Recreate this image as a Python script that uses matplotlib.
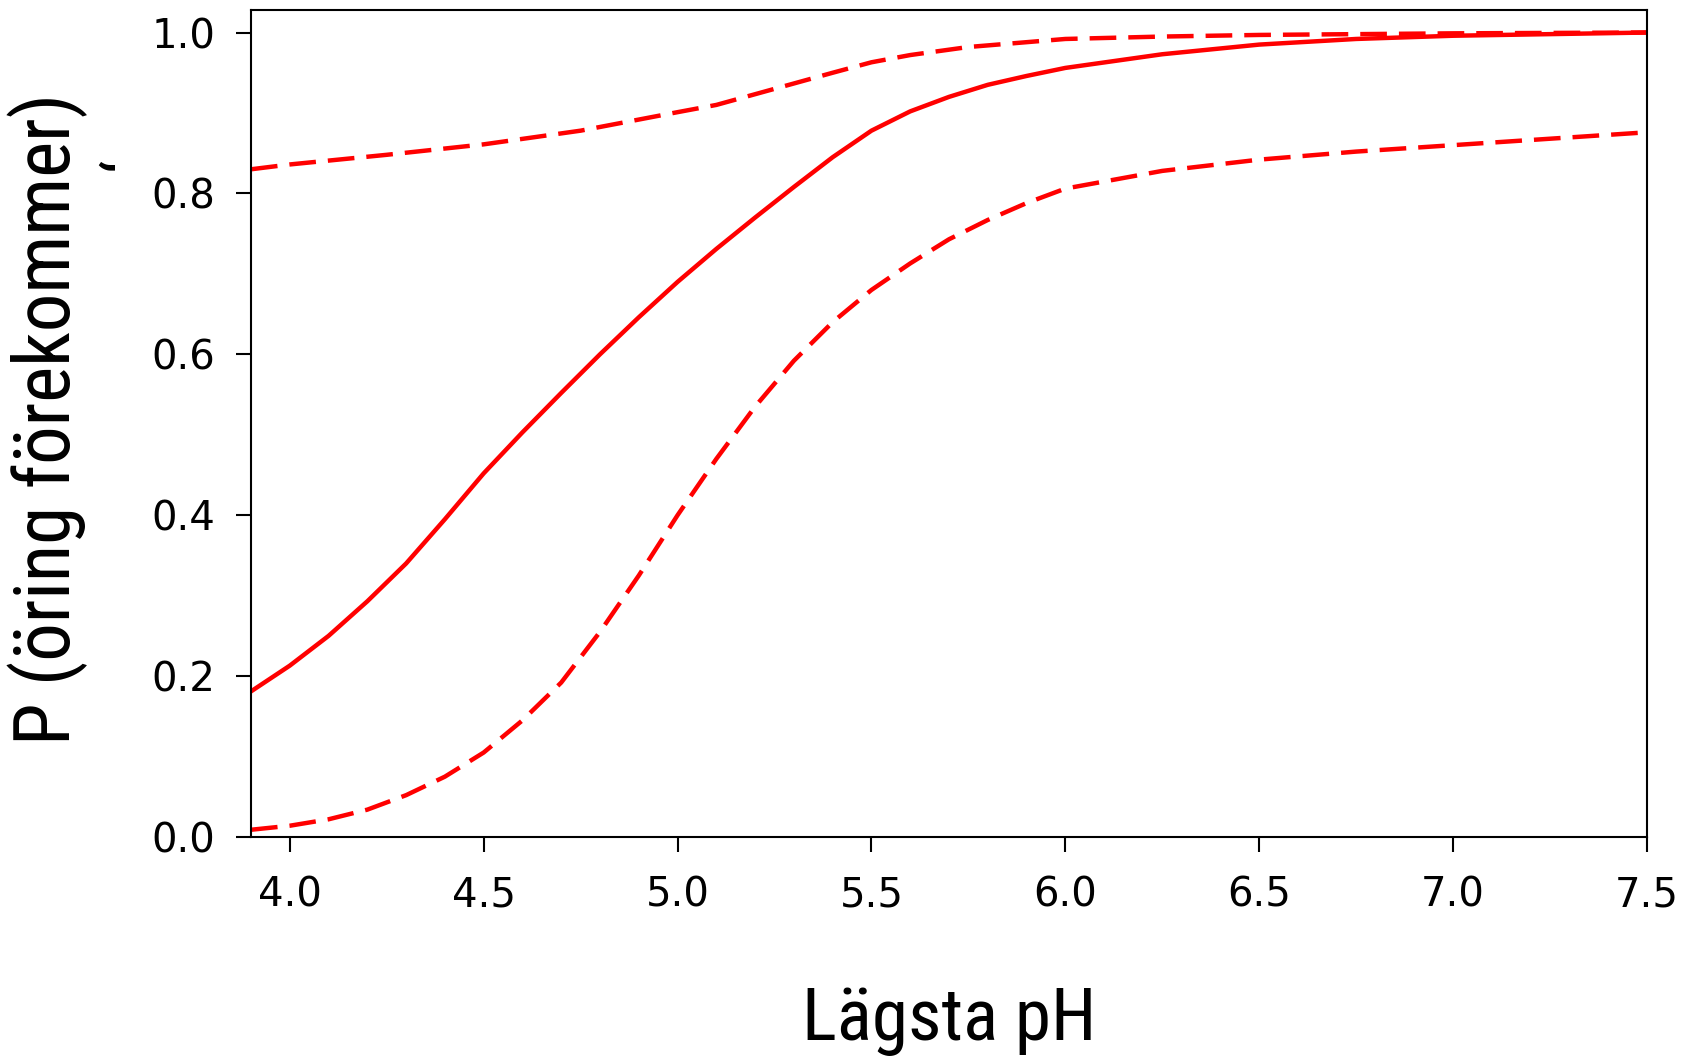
import matplotlib
matplotlib.use("Agg")
import matplotlib.pyplot as plt
from matplotlib import font_manager as fm
from matplotlib.textpath import TextPath

# Data
ph_fit = [3.9, 4.0, 4.1, 4.2, 4.3, 4.4, 4.5, 4.6, 4.7, 4.8, 4.9, 5.0, 5.1, 5.2, 5.3, 5.4, 5.5,
          5.6, 5.7, 5.8, 5.9, 6.0, 6.25, 6.5, 6.75, 7.0, 7.25, 7.5]
p_fit = [0.181, 0.213, 0.250, 0.293, 0.340, 0.395, 0.452, 0.503, 0.552, 0.600, 0.646, 0.690,
         0.731, 0.770, 0.808, 0.845, 0.878, 0.902, 0.920, 0.935, 0.946, 0.956, 0.973, 0.985,
         0.992, 0.996, 0.998, 1.0]

ph_upper = [3.9, 4.0, 4.25, 4.5, 4.75, 5.0, 5.1, 5.25, 5.4, 5.5, 5.6, 5.75, 6.0, 6.25, 6.5, 7.0, 7.5]
p_upper = [0.830, 0.836, 0.848, 0.861, 0.878, 0.901, 0.910, 0.930, 0.950, 0.963, 0.972, 0.982,
           0.992, 0.995, 0.997, 0.999, 1.0]

ph_lower = [3.9, 4.0, 4.1, 4.2, 4.3, 4.4, 4.5, 4.6, 4.7, 4.8, 4.9, 5.0, 5.1, 5.2, 5.3, 5.4, 5.5,
            5.6, 5.7, 5.8, 5.9, 6.0, 6.25, 6.5, 6.75, 7.0, 7.25, 7.5]
p_lower = [0.009, 0.014, 0.022, 0.034, 0.052, 0.075, 0.105, 0.145, 0.192, 0.255, 0.325, 0.400,
           0.470, 0.535, 0.592, 0.640, 0.680, 0.713, 0.743, 0.767, 0.788, 0.806, 0.828, 0.842,
           0.852, 0.860, 0.868, 0.876]

x_ticks = [4.0, 4.5, 5.0, 5.5, 6.0, 6.5, 7.0, 7.5]
y_ticks = [0.0, 0.2, 0.4, 0.6, 0.8, 1.0]

xlabel_text = 'Lägsta pH'
ylabel_text = 'P (öring förekommer)'

label_family = ['Roboto Condensed', 'DejaVu Sans']

# size the condensed label lettering so "Lägsta pH" is ~283 px wide at 100 dpi
_fp = fm.FontProperties(family=label_family)
_w100 = TextPath((0, 0), xlabel_text, size=100, prop=_fp).get_extents().width
xlabel_size = min(283.0 * 72.0 / 100.0 / (_w100 / 100.0), 60)
ylabel_size = xlabel_size * 1.05

fig = plt.figure(figsize=(16.9, 10.58), dpi=100)
ax = fig.add_axes([251 / 1690, 1 - 837 / 1058, 1396 / 1690, 827 / 1058])

lw = 3.2
dash = (6.0, 2.7)
ax.plot(ph_fit, p_fit, color='red', lw=lw)
ax.plot(ph_upper, p_upper, color='red', lw=lw, dashes=dash)
ax.plot(ph_lower, p_lower, color='red', lw=lw, dashes=dash)

ax.set_xlim(3.9, 7.5)
ax.set_ylim(0.0, 1.028)
ax.set_xticks(x_ticks)
ax.set_xticklabels([f"{v:.1f}" for v in x_ticks])
ax.set_yticks(y_ticks)
ax.set_yticklabels([f"{v:.1f}" for v in y_ticks])

for s in ax.spines.values():
    s.set_linewidth(1.5)
ax.tick_params(axis='both', direction='out', length=10.5, width=1.5, labelsize=29)
ax.tick_params(axis='x', pad=17)
ax.tick_params(axis='y', pad=15)

ax.set_xlabel(xlabel_text, family=label_family, fontsize=xlabel_size)
ax.xaxis.set_label_coords(0.5, -0.181)
ax.set_ylabel(ylabel_text, family=label_family, fontsize=ylabel_size)
ax.yaxis.set_label_coords(-0.117, 0.506)

fig.text(106 / 1690, 1 - 166 / 1058, ',', rotation=-90, rotation_mode='anchor',
         family=label_family, fontsize=46, ha='center', va='baseline')

fig.savefig('out.png', dpi=100)
